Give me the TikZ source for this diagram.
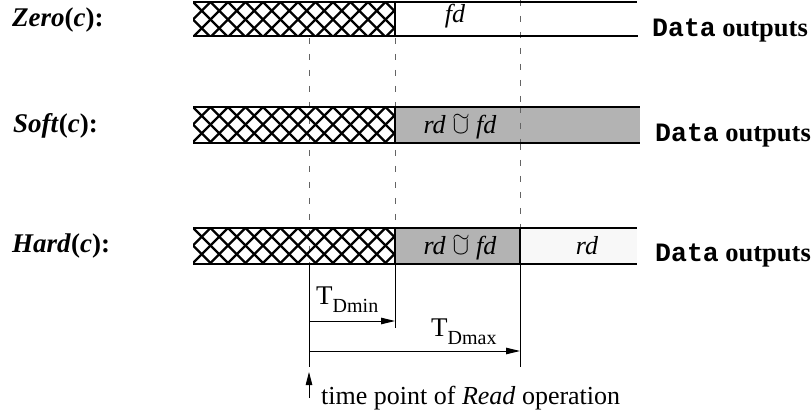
\documentclass[tikz,border=0pt]{standalone}
\usepackage{graphicx}
\usepackage{fontspec}
\setmainfont{Liberation Serif}
\setmonofont{Liberation Mono}
\usetikzlibrary{arrows.meta}
\definecolor{cellgray}{RGB}{179,179,179}
\definecolor{offwhite}{RGB}{248,248,248}
\definecolor{dashgray}{RGB}{100,100,100}
\tikzset{
  hatchline/.style={line width=2.2pt},
  busline/.style={line width=2.6pt},
  divider/.style={line width=2pt},
  guide/.style={dashgray, line width=0.8pt, dash pattern=on 6pt off 10pt},
  thin/.style={line width=0.9pt},
  timearrow/.style={thin, -{Triangle[length=14pt,width=6.5pt]}},
  rowlabel/.style={anchor=base west, inner sep=0pt, font=\fontsize{27}{30}\selectfont\bfseries},
  outlabel/.style={anchor=base west, inner sep=0pt, font=\fontsize{26.5}{30}\selectfont\bfseries},
  cell/.style={anchor=base, inner sep=0pt, font=\fontsize{26}{30}\selectfont},
  tlabel/.style={anchor=base west, inner sep=0pt, font=\fontsize{27}{30}\selectfont},
  readlabel/.style={anchor=base west, inner sep=0pt, font=\fontsize{26}{30}\selectfont},
}
\newcommand\tsub[1]{\raisebox{-8pt}{\fontsize{20}{24}\selectfont #1}}
\newcommand\tcup{{\fontsize{24}{28}\selectfont\ooalign{\hfil$\cup$\hfil\cr\hfil\raisebox{12.5pt}{\scalebox{0.9}[0.8]{$\sim$}}\hfil\cr}}}
\newcommand\hatchbox[4]{%
  \begin{scope}
    \clip (#1,#2) rectangle (#3,#4);
    \foreach \k in {-3,...,15}{
      \draw[hatchline] ({#1+\k*17.5},#2) -- ++(40,40);
      \draw[hatchline] ({#1+\k*17.5},#2) -- ++(-40,40);
    }
  \end{scope}}
\begin{document}
\begin{tikzpicture}[x=1pt,y=-1pt]
\useasboundingbox (0,0) rectangle (812,414);
\fill[white] (0,0) rectangle (812,414);

% guide lines
\draw[guide] (309,38) -- (309,264);
\draw[guide] (395,38) -- (395,228);
\draw[guide] (520,0) -- (520,228);

% row 1: Zero
\hatchbox{193}{2}{395}{36}
\draw[busline] (193,2) -- (637,2);
\draw[busline] (193,36) -- (638,36);
\draw[divider] (395,2) -- (395,36);
\node[cell] (fd1) at (455,23) {\textit{fd}};

% row 2: Soft
\fill[cellgray] (395,107) rectangle (640,143);
\draw[guide] (520,107) -- (520,143);
\hatchbox{193}{107}{395}{143}
\draw[busline] (193,107) -- (640,107);
\draw[busline] (193,143) -- (640,143);
\draw[divider] (395,107) -- (395,143);
\node[cell] (rf2) at (460,134) {\textit{rd} \tcup\ \textit{fd}};

% row 3: Hard
\fill[cellgray] (395,228) rectangle (520,264);
\fill[offwhite] (520,228) rectangle (637,264);
\hatchbox{193}{228}{395}{264}
\draw[busline] (193,228) -- (637,228);
\draw[busline] (193,264) -- (637,264);
\draw[divider] (395,228) -- (395,264);
\draw[divider] (520,228) -- (520,264);
\node[cell] (rf3) at (460,255) {\textit{rd} \tcup\ \textit{fd}};
\node[cell] (rd3) at (587,255) {\textit{rd}};

% row labels
\node[rowlabel] (zero) at (12,27) {\textit{Zero}(\textit{c}):};
\node[rowlabel] (soft) at (13,133) {\textit{Soft}(\textit{c}):};
\node[rowlabel] (hard) at (12,253) {\textit{Hard}(\textit{c}):};

% output labels
\node[outlabel] (out1) at (652,37) {\texttt{Data} outputs};
\node[outlabel] (out2) at (655,142) {\texttt{Data} outputs};
\node[outlabel] (out3) at (655,262) {\texttt{Data} outputs};

% timing marks
\coordinate (r0) at (309,264);
\coordinate (r1) at (309,367);
\coordinate (m0) at (395,264);
\coordinate (m1) at (395,328);
\coordinate (x0) at (520,264);
\coordinate (x1) at (520,367);
\draw[thin] (r0) -- (r1);
\draw[thin] (m0) -- (m1);
\draw[thin] (x0) -- (x1);
\coordinate (minS) at (309,321);
\coordinate (minE) at (395,321);
\coordinate (maxS) at (309,351);
\coordinate (maxE) at (520,351);
\draw[timearrow] (minS) -- (minE);
\draw[timearrow] (maxS) -- (maxE);
\node[tlabel] (tmin) at (316,305) {T\tsub{Dmin}};
\node[tlabel] (tmax) at (431,337) {T\tsub{Dmax}};

\coordinate (rpB) at (309,398);
\coordinate (rpT) at (309,372);
\draw[thin, -{Triangle[length=13pt,width=6.5pt]}] (rpB) -- (rpT);
\node[readlabel] (read) at (321,404) {time point of \textit{Read} operation};
\end{tikzpicture}
\end{document}
